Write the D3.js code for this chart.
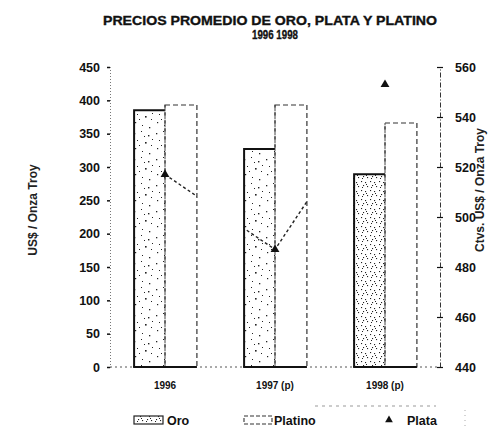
<!DOCTYPE html>
<html>
<head>
<meta charset="utf-8">
<script src="https://cdn.jsdelivr.net/npm/d3@7"></script>
<style>
  html, body { margin: 0; padding: 0; background: #fff; }
  svg { display: block; font-family: "Liberation Sans", Arial, sans-serif; }
</style>
</head>
<body>
<svg id="chart" width="493" height="429"></svg>
<script>
// Average prices, 1996-1998
const years = ["1996", "1997 (p)", "1998 (p)"];
const oro = [385, 327, 289];          // US$ / oz troy
const platino = [393, 393, 366];      // US$ / oz troy
const plata = [517, 487, 553];        // US cents / oz troy
const leftTicks = [0, 50, 100, 150, 200, 250, 300, 350, 400, 450];
const rightTicks = [440, 460, 480, 500, 520, 540, 560];

const svg = d3.select("#chart");
const ink = "#111";

const x = d3.scaleBand().domain(years).range([110, 440]).paddingInner(0.42).paddingOuter(0.21);
const yL = d3.scaleLinear().domain([0, 450]).range([367, 67]);
const yR = d3.scaleLinear().domain([440, 560]).range([367, 67]);

// stipple fills for the gold bars (sparse and dense)
const defs = svg.append("defs");
function stipple(id, w, h, dots) {
  const p = defs.append("pattern").attr("id", id)
    .attr("patternUnits", "userSpaceOnUse").attr("width", w).attr("height", h);
  p.append("rect").attr("width", w).attr("height", h).attr("fill", "#fff");
  dots.forEach(([a, b, s]) =>
    p.append("rect").attr("x", a).attr("y", b).attr("width", s).attr("height", s).attr("fill", "#222"));
}
stipple("stipple", 22, 26, [
  [2,3,1.3],[9,1,1],[16,5,1.4],[5,10,1],[13,12,1.6],[19,15,1],[3,18,1.2],
  [10,21,1],[17,23,1.3],[7,15,1],[20,9,1],[12,6,1]
]);
stipple("stippleDense", 9, 9, [
  [1,1,1.1],[5,2,1.1],[3,5,1.1],[7,6,1.1],[2,7,1],[6,4,1]
]);

const half = x.bandwidth() / 2;
const oroX = d => x(d);
const platX = d => x(d) + half;

// Title
const title = svg.append("g").attr("font-weight", "bold").attr("fill", ink).attr("text-anchor", "middle")
  .attr("stroke", ink).attr("stroke-width", 0.35);
title.append("text").attr("x", 270).attr("y", 25).attr("font-size", 12.5)
  .attr("textLength", 334).attr("lengthAdjust", "spacingAndGlyphs")
  .text("PRECIOS PROMEDIO DE ORO, PLATA Y PLATINO");
title.append("text").attr("x", 275).attr("y", 39).attr("font-size", 12.5)
  .attr("textLength", 46).attr("lengthAdjust", "spacingAndGlyphs").text("1996 1998");

// Left axis
const gL = svg.append("g").attr("transform", "translate(110,0)")
  .call(d3.axisLeft(yL).tickValues(leftTicks).tickSize(3).tickPadding(7));
gL.select(".domain").attr("stroke", "#777").attr("stroke-dasharray", "1,2");
gL.selectAll(".tick line").attr("stroke", ink).attr("stroke-width", 1.5);
gL.selectAll(".tick text").attr("font-size", 12.5).attr("font-weight", "bold").attr("fill", ink)
  .attr("font-family", "Liberation Sans, Arial, sans-serif");

// Right axis
const gR = svg.append("g").attr("transform", "translate(440,0)")
  .call(d3.axisRight(yR).tickValues(rightTicks).tickSizeInner(3).tickSizeOuter(0).tickPadding(12));
gR.select(".domain").attr("stroke", "#333").attr("stroke-dasharray", "5,2,1,2");
gR.selectAll(".tick line").attr("x1", -3).attr("stroke", ink).attr("stroke-width", 1.2);
gR.selectAll(".tick text").attr("font-size", 12.5).attr("font-weight", "bold").attr("fill", ink)
  .attr("font-family", "Liberation Sans, Arial, sans-serif");

// Axis titles
svg.append("text").attr("transform", "translate(37,210) rotate(-90)")
  .attr("text-anchor", "middle").attr("font-size", 12).attr("font-weight", "bold").attr("fill", "#222")
  .text("US$ / Onza Troy");
svg.append("text").attr("transform", "translate(484,190) rotate(-90)")
  .attr("text-anchor", "middle").attr("font-size", 12).attr("font-weight", "bold").attr("fill", "#222")
  .text("Ctvs. US$ / Onza Troy");

// Baseline
svg.append("line").attr("x1", 110).attr("x2", 440).attr("y1", yL(0)).attr("y2", yL(0))
  .attr("stroke", "#555").attr("stroke-dasharray", "2,3");

// Gold bars
const gOro = svg.append("g");
gOro.selectAll("rect").data(years).join("rect")
  .attr("x", d => oroX(d)).attr("width", half)
  .attr("y", (d, i) => yL(oro[i])).attr("height", (d, i) => yL(0) - yL(oro[i]))
  .attr("fill", (d, i) => i === 2 ? "url(#stippleDense)" : "url(#stipple)");
gOro.selectAll("path.edge").data(years).join("path").attr("class", "edge")
  .attr("d", (d, i) => `M${oroX(d) + 1},${yL(0)}V${yL(oro[i])}H${oroX(d) + half}`)
  .attr("fill", "none").attr("stroke", ink).attr("stroke-width", 2);

// Platinum bars
const gPlat = svg.append("g");
gPlat.selectAll("rect").data(years).join("rect")
  .attr("x", d => platX(d)).attr("width", half)
  .attr("y", (d, i) => yL(platino[i])).attr("height", (d, i) => yL(0) - yL(platino[i]))
  .attr("fill", "#fff").attr("stroke", "#333").attr("stroke-width", 1.2)
  .attr("stroke-dasharray", "5,3");
// shared dotted divider between each bar pair
svg.append("g").selectAll("line").data(years).join("line")
  .attr("x1", d => platX(d)).attr("x2", d => platX(d))
  .attr("y1", (d, i) => yL(Math.max(oro[i], platino[i]))).attr("y2", yL(0))
  .attr("stroke", "#444").attr("stroke-dasharray", "2,2");
// heavy bottom edge
svg.append("g").selectAll("line").data(years).join("line")
  .attr("x1", d => oroX(d)).attr("x2", d => oroX(d) + x.bandwidth())
  .attr("y1", yL(0)).attr("y2", yL(0)).attr("stroke", ink).attr("stroke-width", 2.2);

// Silver line: only visible over the bars
const clip = defs.append("clipPath").attr("id", "barsClip");
years.forEach((d, i) => {
  clip.append("rect").attr("x", oroX(d)).attr("width", half)
    .attr("y", yL(oro[i])).attr("height", yL(0) - yL(oro[i]));
  clip.append("rect").attr("x", platX(d)).attr("width", half)
    .attr("y", yL(platino[i])).attr("height", yL(0) - yL(platino[i]));
});
const line = d3.line().x((d, i) => x(years[i]) + half).y(d => yR(d));
svg.append("path").datum(plata).attr("d", line).attr("clip-path", "url(#barsClip)")
  .attr("fill", "none").attr("stroke", "#222").attr("stroke-width", 1.4).attr("stroke-dasharray", "3,2.5");

svg.append("g").selectAll("path").data(plata).join("path")
  .attr("transform", (d, i) => `translate(${x(years[i]) + half},${yR(d)})`)
  .attr("d", d3.symbol(d3.symbolTriangle, 34)).attr("fill", ink);

// Category labels
svg.append("g").selectAll("text").data(years).join("text")
  .attr("x", d => x(d) + half).attr("y", 389).attr("text-anchor", "middle")
  .attr("font-size", 10).attr("font-weight", "bold").attr("fill", ink).text(d => d);

// Legend
const lg = svg.append("g").attr("font-size", 12.5).attr("font-weight", "bold").attr("fill", ink);
lg.append("rect").attr("x", 134).attr("y", 416).attr("width", 29).attr("height", 8)
  .attr("fill", "url(#stippleDense)").attr("stroke", "#222").attr("stroke-width", 1.2);
lg.append("text").attr("x", 167).attr("y", 425).text("Oro");
lg.append("rect").attr("x", 244).attr("y", 416).attr("width", 28).attr("height", 8)
  .attr("fill", "#fff").attr("stroke", "#333").attr("stroke-width", 1.1).attr("stroke-dasharray", "4,2");
lg.append("text").attr("x", 274).attr("y", 425).text("Platino");
lg.append("path").attr("transform", "translate(389,420)")
  .attr("d", d3.symbol(d3.symbolTriangle, 26)).attr("fill", ink);
lg.append("text").attr("x", 407).attr("y", 425).text("Plata");
lg.append("line").attr("x1", 315).attr("x2", 436).attr("y1", 406).attr("y2", 406)
  .attr("stroke", "#999").attr("stroke-dasharray", "3,4");
lg.append("line").attr("x1", 465).attr("x2", 465).attr("y1", 410).attr("y2", 426)
  .attr("stroke", "#aaa").attr("stroke-dasharray", "1,4");
</script>
</body>
</html>
